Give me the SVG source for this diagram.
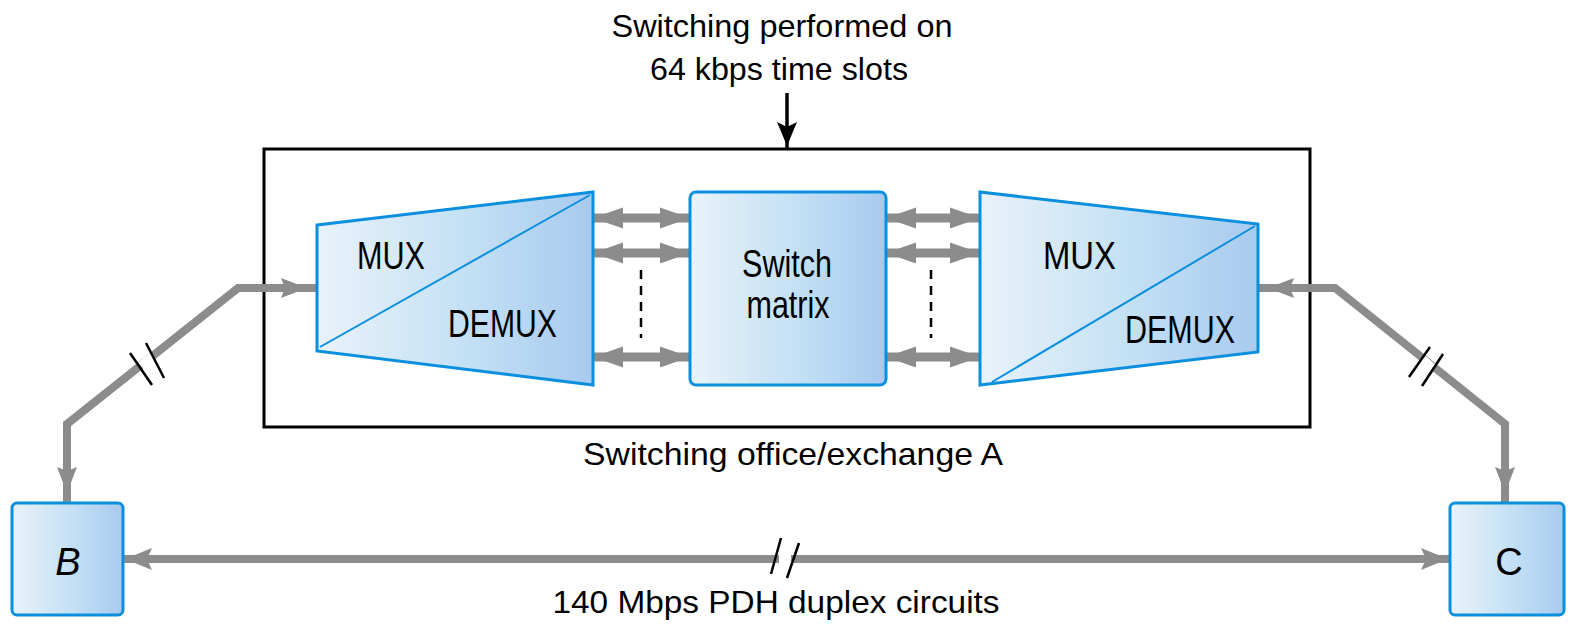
<svg xmlns="http://www.w3.org/2000/svg" width="1571" height="630" viewBox="0 0 1571 630">
  <style>
    .lbl { font-family: "Liberation Sans", Arial, sans-serif; font-size: 32px; fill: #000; }
    .nlbl { font-family: "Liberation Sans", Arial, sans-serif; font-size: 38px; fill: #000; }
    .node { fill: url(#blueFill); stroke: #0a8fde; stroke-width: 3; stroke-linejoin: miter; }
    .split { stroke: #0a8fde; stroke-width: 2; fill: none; }
    .link { fill: none; stroke: #8c8c8c; stroke-width: 8; stroke-linejoin: miter; }
    .inner { fill: none; stroke: #8c8c8c; stroke-width: 9; }
    .gap { stroke: #fff; stroke-width: 12; fill: none; }
    .brk { stroke: #000; stroke-width: 2.5; fill: none; }
    .dash { stroke: #000; stroke-width: 2.5; stroke-dasharray: 9 7; fill: none; }
  </style>
  <defs>
    <linearGradient id="blueFill" x1="0" y1="0" x2="1" y2="0">
      <stop offset="0" stop-color="#e9f2fa"/>
      <stop offset="0.5" stop-color="#c6e2f5"/>
      <stop offset="1" stop-color="#a8caee"/>
    </linearGradient>
    <!-- gray arrowhead, tip set back 10px from the line end -->
    <marker id="headFar" viewBox="0 0 40 22" markerWidth="40" markerHeight="22" refX="36" refY="11" markerUnits="userSpaceOnUse" orient="auto-start-reverse">
      <path d="M0,1 L26,11 L0,21 L4,11 z" fill="#8c8c8c"/>
    </marker>
    <!-- gray arrowhead, tip almost at the line end -->
    <marker id="headNear" viewBox="0 0 40 22" markerWidth="40" markerHeight="22" refX="29" refY="11" markerUnits="userSpaceOnUse" orient="auto-start-reverse">
      <path d="M0,0 L27,11 L0,22 L5,11 z" fill="#8c8c8c"/>
    </marker>
    <!-- short double arrows between mux and switch -->
    <marker id="headSmall" viewBox="0 0 32 22" markerWidth="32" markerHeight="22" refX="30" refY="11" markerUnits="userSpaceOnUse" orient="auto-start-reverse">
      <path d="M0,0.5 L30,11 L0,21.5 z" fill="#8c8c8c"/>
    </marker>
    <marker id="headBlack" viewBox="0 0 30 22" markerWidth="30" markerHeight="22" refX="26" refY="11" markerUnits="userSpaceOnUse" orient="auto">
      <path d="M0,1 L24,11 L0,21 L5,11 z" fill="#000"/>
    </marker>
  </defs>

  <rect width="1571" height="630" fill="#fff"/>

  <!-- captions -->
  <g id="captions">
    <text class="lbl" x="782" y="37" text-anchor="middle" textLength="341" lengthAdjust="spacingAndGlyphs">Switching performed on</text>
    <text class="lbl" x="779" y="80" text-anchor="middle" textLength="258" lengthAdjust="spacingAndGlyphs">64 kbps time slots</text>
    <text class="lbl" x="793" y="465" text-anchor="middle" textLength="420" lengthAdjust="spacingAndGlyphs">Switching office/exchange A</text>
    <text class="lbl" x="776" y="613" text-anchor="middle" textLength="447" lengthAdjust="spacingAndGlyphs">140 Mbps PDH duplex circuits</text>
  </g>

  <!-- exchange A enclosure -->
  <g id="exchangeA">
    <rect x="264" y="149" width="1046" height="278" fill="none" stroke="#000" stroke-width="3"/>
  </g>

  <!-- connectors -->
  <g id="connectors">
    <path class="link" d="M67,503 L67,424 L238,288 L317,288" marker-start="url(#headFar)" marker-end="url(#headFar)"/>
    <path class="link" d="M1258,288 L1335,288 L1505,424 L1505,503" marker-start="url(#headFar)" marker-end="url(#headFar)"/>
    <path class="link" d="M123,559 L1450,559" marker-start="url(#headNear)" marker-end="url(#headNear)"/>

    <path class="inner" d="M593,218 L690,218" marker-start="url(#headSmall)" marker-end="url(#headSmall)"/>
    <path class="inner" d="M593,253 L690,253" marker-start="url(#headSmall)" marker-end="url(#headSmall)"/>
    <path class="inner" d="M593,357 L690,357" marker-start="url(#headSmall)" marker-end="url(#headSmall)"/>
    <path class="inner" d="M886,218 L980,218" marker-start="url(#headSmall)" marker-end="url(#headSmall)"/>
    <path class="inner" d="M886,253 L980,253" marker-start="url(#headSmall)" marker-end="url(#headSmall)"/>
    <path class="inner" d="M886,357 L980,357" marker-start="url(#headSmall)" marker-end="url(#headSmall)"/>

    <line class="dash" x1="641" y1="270" x2="641" y2="338"/>
    <line class="dash" x1="931" y1="270" x2="931" y2="338"/>

    <path d="M787,93 L787,148" stroke="#000" stroke-width="3.5" fill="none" marker-end="url(#headBlack)"/>

    <!-- line breaks -->
    <line class="gap" x1="142" y1="367" x2="154" y2="357"/>
    <line class="brk" x1="130" y1="353" x2="152" y2="385"/>
    <line class="brk" x1="146" y1="343" x2="164" y2="378"/>

    <line class="gap" x1="1421" y1="360" x2="1433" y2="370"/>
    <line class="brk" x1="1409" y1="377" x2="1430" y2="347"/>
    <line class="brk" x1="1422" y1="386" x2="1443" y2="354"/>

    <line class="gap" x1="779" y1="559" x2="791" y2="559"/>
    <line class="brk" x1="771" y1="574" x2="781" y2="538"/>
    <line class="brk" x1="787" y1="578" x2="799" y2="543"/>
  </g>

  <!-- left multiplexer -->
  <g id="muxLeft">
    <polygon class="node" points="317,225 593,192 593,385 317,351"/>
    <line class="split" x1="320" y1="347" x2="590" y2="195"/>
    <text class="nlbl" x="357" y="269" textLength="68" lengthAdjust="spacingAndGlyphs">MUX</text>
    <text class="nlbl" x="448" y="337" textLength="109" lengthAdjust="spacingAndGlyphs">DEMUX</text>
  </g>

  <!-- switch matrix -->
  <g id="switchMatrix">
    <rect class="node" x="690" y="192" width="196" height="193" rx="6"/>
    <text class="nlbl" x="787" y="277" text-anchor="middle" textLength="90" lengthAdjust="spacingAndGlyphs">Switch</text>
    <text class="nlbl" x="788" y="318" text-anchor="middle" textLength="83" lengthAdjust="spacingAndGlyphs">matrix</text>
  </g>

  <!-- right multiplexer -->
  <g id="muxRight">
    <polygon class="node" points="980,192 1258,224 1258,352 980,385"/>
    <line class="split" x1="992" y1="382" x2="1255" y2="226"/>
    <text class="nlbl" x="1043" y="269" textLength="73" lengthAdjust="spacingAndGlyphs">MUX</text>
    <text class="nlbl" x="1125" y="343" textLength="110" lengthAdjust="spacingAndGlyphs">DEMUX</text>
  </g>

  <!-- end nodes -->
  <g id="nodeB">
    <rect class="node" x="12" y="503" width="111" height="112" rx="5"/>
    <text class="nlbl" x="68" y="575" text-anchor="middle" font-style="italic">B</text>
  </g>
  <g id="nodeC">
    <rect class="node" x="1450" y="503" width="114" height="112" rx="5"/>
    <text class="nlbl" x="1509" y="575" text-anchor="middle">C</text>
  </g>
</svg>
